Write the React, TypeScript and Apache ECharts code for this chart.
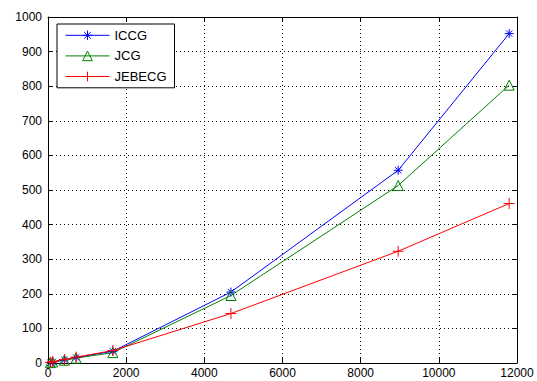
import React, { useEffect, useRef } from "react";
import * as echarts from "echarts";

const xValues = [60, 120, 420, 720, 1660, 4680, 8960, 11800];
const iccg = [1, 3, 9, 16, 34, 205, 557, 952];
const jcg = [1, 3, 8, 14, 30, 195, 513, 803];
const jebecg = [2, 4, 10, 17, 36, 143, 323, 461];
const seriesNames = ["ICCG", "JCG", "JEBECG"];

const ASTERISK = "path://M0,-10L0,10M-10,0L10,0M-7,-7L7,7M-7,7L7,-7";
const PLUS = "path://M0,-10L0,10M-10,0L10,0";
const TRI = "path://M0,-10L9,7L-9,7Z";

export default function App() {
  const ref = useRef<HTMLDivElement>(null);
  useEffect(() => {
    document.body.style.margin = "0";
    const chart = echarts.init(ref.current!, null, { renderer: "svg" });
    const pair = (ys: number[]) => xValues.map((x, i) => [x, ys[i]]);
    const axisLabel = {
      color: "#000",
      fontFamily: "Liberation Sans, Arial",
      fontSize: 12,
      formatter: (v: number) => String(v),
    };
    const split = { show: true, lineStyle: { color: "#000", type: [1, 3] as any, width: 1 } };
    const line = { show: true, onZero: false, lineStyle: { color: "#000", width: 1 } };
    const tick = { show: true, inside: true, length: 5, lineStyle: { color: "#000" } };
    const mk = (name: string, data: number[], color: string, symbol: string, size: number) => ({
      name,
      type: "line",
      data: pair(data),
      symbol,
      symbolSize: size,
      showAllSymbol: true,
      lineStyle: { color, width: 1 },
      itemStyle: { color: "none", borderColor: color, borderWidth: 1 },
      z: 3,
    });
    chart.setOption({
      animation: false,
      backgroundColor: "#fff",
      grid: { left: 48, right: 20, top: 17, bottom: 18, show: false },
      legend: {
        orient: "vertical",
        left: 57,
        top: 24,
        padding: [4, 8, 4, 8],
        itemWidth: 44,
        itemHeight: 12,
        itemGap: 6,
        backgroundColor: "#fff",
        borderColor: "#000",
        borderWidth: 1,
        data: seriesNames,
        lineStyle: { width: 1 },
        itemStyle: { borderWidth: 1 },
        textStyle: { color: "#000", fontFamily: "Liberation Sans, Arial", fontSize: 13 },
      },
      xAxis: [
        {
          type: "value", min: 0, max: 12000, interval: 2000,
          axisLine: line, axisTick: tick, splitLine: split,
          axisLabel: { ...axisLabel, margin: 4 },
        },
        {
          type: "value", position: "top", min: 0, max: 12000, interval: 2000,
          axisLine: line, axisTick: tick, splitLine: { show: false }, axisLabel: { show: false },
        },
      ],
      yAxis: [
        {
          type: "value", min: 0, max: 1000, interval: 100,
          axisLine: line, axisTick: tick, splitLine: split,
          axisLabel: { ...axisLabel, margin: 6 },
        },
        {
          type: "value", position: "right", min: 0, max: 1000, interval: 100,
          axisLine: line, axisTick: tick, splitLine: { show: false }, axisLabel: { show: false },
        },
      ],
      series: [
        mk(seriesNames[0], iccg, "#0000ff", ASTERISK, 9),
        mk(seriesNames[1], jcg, "#008000", TRI, 10),
        mk(seriesNames[2], jebecg, "#ff0000", PLUS, 11),
      ],
    });
    return () => chart.dispose();
  }, []);
  return <div ref={ref} style={{ width: 537, height: 381 }} />;
}
